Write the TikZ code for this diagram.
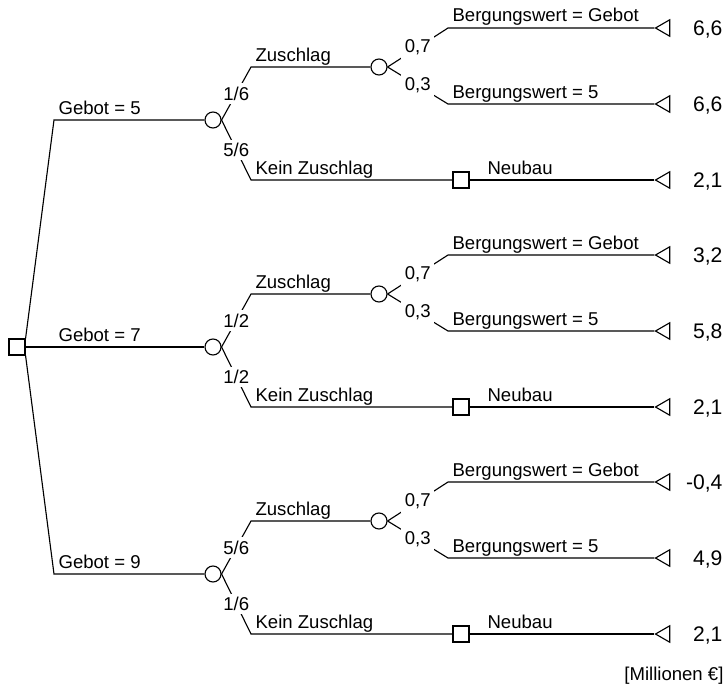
\documentclass[tikz,border=0pt]{standalone}
\usepackage{fontspec}
\setmainfont{Liberation Sans}
\usetikzlibrary{shapes.geometric}

\begin{document}
\begin{tikzpicture}[x=0.025cm, y=-0.025cm, line width=0.8pt,
	font=\fontsize{13.2}{16}\selectfont,
	decision/.style={draw, rectangle, minimum size=0.4cm, inner sep=0pt},
	chance/.style={draw, circle, minimum size=0.4cm, inner sep=0pt},
	payoff/.style={draw, regular polygon, regular polygon sides=3, shape border rotate=90, minimum size=0.475cm, inner sep=0pt},
	prob/.style={fill=white, inner sep=2.5pt},
	lbl/.style={anchor=base west, inner sep=0pt},
	val/.style={anchor=base east, inner sep=0pt, font=\fontsize{15}{18}\selectfont}]
						\useasboundingbox (0,0) rectangle (727,690);
						\node[decision] (d0) at (17,347) {};

						\coordinate (a1) at (54,120);
						\coordinate (a3) at (54,574);
						\node[chance] (c1) at (213,120) {};
						\node[chance] (c2) at (213,347) {};
						\node[chance] (c3) at (213,574) {};
						\draw (d0.north east) -- (a1) -- (c1);
						\draw (d0) -- (c2);
						\draw (d0.south east) -- (a3) -- (c3);
						\node[lbl] (g1) at (58,114) {Gebot = 5};
						\node[lbl] (g2) at (58,341) {Gebot = 7};
						\node[lbl] (g3) at (58,568) {Gebot = 9};

						\coordinate (k1z) at (251,67);
						\coordinate (k1n) at (251,180);
						\node[chance] (z1) at (379,67) {};
						\node[decision] (n1) at (461,180) {};
						\draw (c1.east) -- node[prob] (p1z) {1/6} (k1z) -- (z1);
						\draw (c1.east) -- node[prob] (p1n) {5/6} (k1n) -- (n1);
						\node[lbl] (l1z) at (255,61) {Zuschlag};
						\node[lbl] (l1n) at (255,174) {Kein Zuschlag};
						\coordinate (b1g) at (448,28);
						\coordinate (b1f) at (448,104);
						\node[payoff] (t1g) at (665,28) {};
						\node[payoff] (t1f) at (665,104) {};
						\node[payoff] (t1n) at (665,180) {};
						\draw (z1.east) -- node[prob] (q1g) {0,7} (b1g) -- (t1g);
						\draw (z1.east) -- node[prob] (q1f) {0,3} (b1f) -- (t1f);
						\draw (n1) -- (t1n);
						\node[lbl] (m1g) at (452,22) {Bergungswert = Gebot};
						\node[lbl] (m1f) at (452,98) {Bergungswert = 5};
						\node[lbl] (m1n) at (487,174) {Neubau};
						\node[val] (v1g) at (723,35.5) {6,6};
						\node[val] (v1f) at (723,111.5) {6,6};
						\node[val] (v1n) at (723,187.5) {2,1};

						\coordinate (k2z) at (251,294);
						\coordinate (k2n) at (251,407);
						\node[chance] (z2) at (379,294) {};
						\node[decision] (n2) at (461,407) {};
						\draw (c2.east) -- node[prob] (p2z) {1/2} (k2z) -- (z2);
						\draw (c2.east) -- node[prob] (p2n) {1/2} (k2n) -- (n2);
						\node[lbl] (l2z) at (255,288) {Zuschlag};
						\node[lbl] (l2n) at (255,401) {Kein Zuschlag};
						\coordinate (b2g) at (448,255);
						\coordinate (b2f) at (448,331);
						\node[payoff] (t2g) at (665,255) {};
						\node[payoff] (t2f) at (665,331) {};
						\node[payoff] (t2n) at (665,407) {};
						\draw (z2.east) -- node[prob] (q2g) {0,7} (b2g) -- (t2g);
						\draw (z2.east) -- node[prob] (q2f) {0,3} (b2f) -- (t2f);
						\draw (n2) -- (t2n);
						\node[lbl] (m2g) at (452,249) {Bergungswert = Gebot};
						\node[lbl] (m2f) at (452,325) {Bergungswert = 5};
						\node[lbl] (m2n) at (487,401) {Neubau};
						\node[val] (v2g) at (723,262.5) {3,2};
						\node[val] (v2f) at (723,338.5) {5,8};
						\node[val] (v2n) at (723,414.5) {2,1};

						\coordinate (k3z) at (251,521);
						\coordinate (k3n) at (251,634);
						\node[chance] (z3) at (379,521) {};
						\node[decision] (n3) at (461,634) {};
						\draw (c3.east) -- node[prob] (p3z) {5/6} (k3z) -- (z3);
						\draw (c3.east) -- node[prob] (p3n) {1/6} (k3n) -- (n3);
						\node[lbl] (l3z) at (255,515) {Zuschlag};
						\node[lbl] (l3n) at (255,628) {Kein Zuschlag};
						\coordinate (b3g) at (448,482);
						\coordinate (b3f) at (448,558);
						\node[payoff] (t3g) at (665,482) {};
						\node[payoff] (t3f) at (665,558) {};
						\node[payoff] (t3n) at (665,634) {};
						\draw (z3.east) -- node[prob] (q3g) {0,7} (b3g) -- (t3g);
						\draw (z3.east) -- node[prob] (q3f) {0,3} (b3f) -- (t3f);
						\draw (n3) -- (t3n);
						\node[lbl] (m3g) at (452,476) {Bergungswert = Gebot};
						\node[lbl] (m3f) at (452,552) {Bergungswert = 5};
						\node[lbl] (m3n) at (487,628) {Neubau};
						\node[val] (v3g) at (723,489.5) {-0,4};
						\node[val] (v3f) at (723,565.5) {4,9};
						\node[val] (v3n) at (723,641.5) {2,1};

						\node[lbl, anchor=base east] (unit) at (724,680) {[Millionen €]};
					\end{tikzpicture}
\end{document}
